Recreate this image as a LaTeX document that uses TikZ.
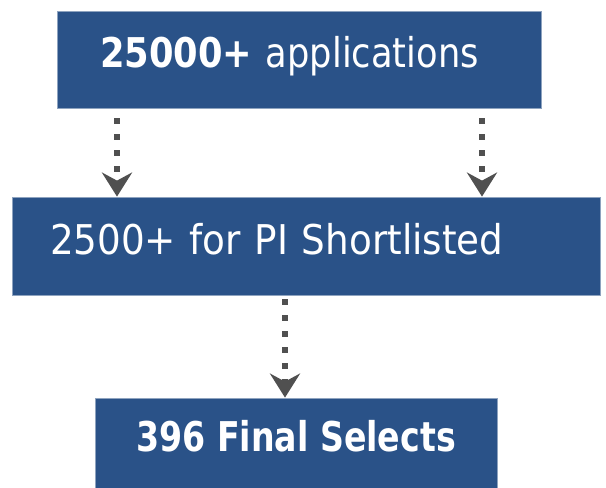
\documentclass[tikz,border=0pt]{standalone}
\usepackage{fontspec}
\setmainfont{DejaVu Sans}[FakeStretch=0.86]
\newfontfamily\widefont{DejaVu Sans}[FakeStretch=0.91]
\newfontfamily\narrowfont{DejaVu Sans}[FakeStretch=0.81]
\usetikzlibrary{arrows.meta, calc}

\definecolor{boxblue}{HTML}{2A5288}
\definecolor{boxedge}{HTML}{8EA3BF}
\definecolor{flowgray}{HTML}{505050}

\tikzset{
    stage/.style={rectangle, fill=boxblue, draw=boxedge, line width=0.8pt,
        text=white, font=\fontsize{41}{48}\selectfont,
        text height=30pt, text depth=14pt, align=left},
    flow/.style={flowgray, line width=6pt, dash pattern=on 6pt off 10pt,
        -{Stealth[length=24pt, width=30pt, inset=8pt]}}
}

\begin{document}
\begin{tikzpicture}[x=1pt, y=-1pt]
    \useasboundingbox (0,0) rectangle (606,488);

    % the three stages
    \node[stage, minimum width=484pt, minimum height=97pt,
          inner xsep=43pt, text width=398pt] (apps) at (299,59.5)
        {\textbf{25000+} applications};
    \node[stage, minimum width=588pt, minimum height=98pt,
          inner xsep=38pt, text width=512pt] (pi) at (306,246)
        {\widefont 2500+ for PI Shortlisted};
    \node[stage, minimum width=402pt, minimum height=90pt,
          inner xsep=0pt] (final) at (296,443)
        {\narrowfont\bfseries 396 Final Selects};

    % columns of the dotted arrows
    \coordinate (colL) at (117,0);
    \coordinate (colR) at (482,0);
    \coordinate (colM) at (285,0);

    % dotted arrows
    \draw[flow] ([yshift=-10pt]apps.south -| colL) -- (pi.north -| colL);
    \draw[flow] ([yshift=-10pt]apps.south -| colR) -- (pi.north -| colR);
    \draw[flow] ([yshift=-4pt]pi.south -| colM) -- (final.north -| colM);

\end{tikzpicture}
\end{document}
